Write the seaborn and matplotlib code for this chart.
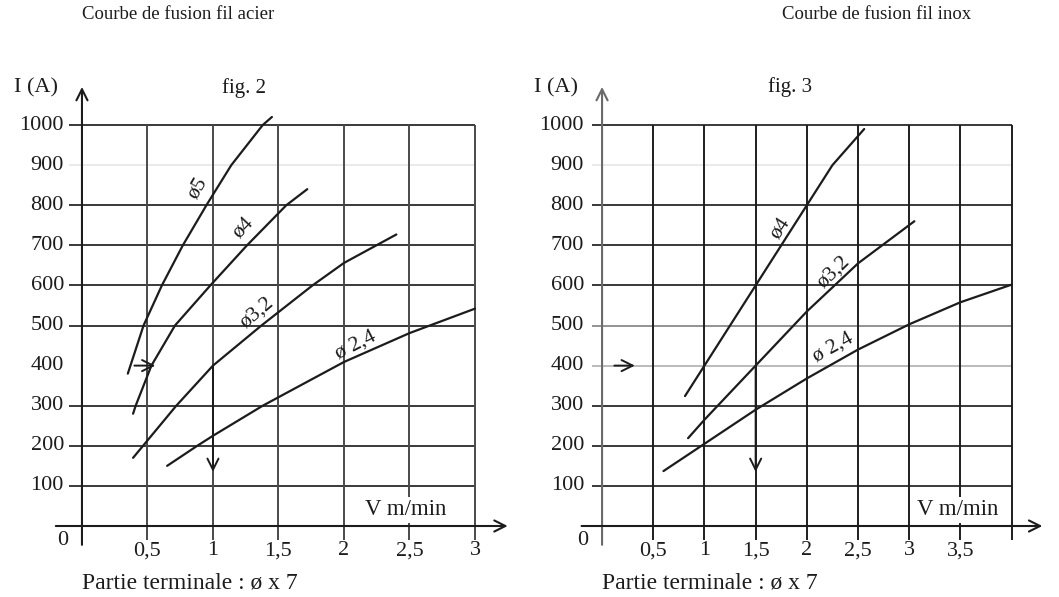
"""Courbes de fusion fil acier / fil inox (fig. 2 et fig. 3), redessinées avec seaborn."""

import matplotlib.pyplot as plt
import pandas as pd
import seaborn as sns

sns.set_theme(style="white")
plt.rcParams["font.family"] = ["Liberation Serif", "DejaVu Serif"]

I_TICKS = [100, 200, 300, 400, 500, 600, 700, 800, 900, 1000]

ACIER_V_TICKS = [0.5, 1, 1.5, 2, 2.5, 3]
ACIER_V_LABELS = ["0,5", "1", "1,5", "2", "2,5", "3"]

acier_d5_v = [0.35, 0.47, 0.61, 0.77, 0.95, 1.14, 1.38, 1.45]
acier_d5_i = [380, 500, 600, 700, 800, 900, 1000, 1020]
acier_d4_v = [0.39, 0.41, 0.53, 0.71, 0.98, 1.26, 1.56, 1.72]
acier_d4_i = [280, 300, 400, 500, 600, 700, 800, 840]
acier_d32_v = [0.39, 0.72, 1.0, 1.37, 1.76, 2.0, 2.4]
acier_d32_i = [170, 300, 400, 500, 600, 656, 727]
acier_d24_v = [0.65, 0.88, 1.0, 1.38, 2.0, 2.5, 3.0]
acier_d24_i = [150, 200, 225, 300, 409, 481, 542]

INOX_V_TICKS = [0.5, 1, 1.5, 2, 2.5, 3, 3.5, 4]
INOX_V_LABELS = ["0,5", "1", "1,5", "2", "2,5", "3", "3,5", ""]

inox_d4_v = [0.81, 1.0, 1.25, 1.5, 1.75, 2.0, 2.25, 2.56]
inox_d4_i = [324, 400, 500, 600, 700, 800, 900, 990]
inox_d32_v = [0.84, 1.0, 1.5, 2.0, 2.5, 3.05]
inox_d32_i = [219, 265, 400, 535, 655, 760]
inox_d24_v = [0.6, 1.0, 1.5, 2.0, 2.5, 3.0, 3.5, 4.0]
inox_d24_i = [137, 205, 290, 368, 440, 503, 558, 602]

INK = "#1c1c1c"


def curve_frame(curves):
    parts = [pd.DataFrame({"V": v, "I": i, "fil": name}) for name, (v, i) in curves.items()]
    return pd.concat(parts, ignore_index=True)


def draw_panel(ax, curves, labels, v_ticks, v_tick_labels, hline_colors, vline_color,
               yaxis_color, xmax_axis, fig_label, fig_label_xy, vlabel_xy, read_arrow, drop_v):
    last_v = v_ticks[-1]

    # quadrillage
    for val in I_TICKS:
        col = hline_colors.get(val, "#2a2a2a")
        if col is None:
            continue
        ax.plot([-0.1, last_v], [val, val], color=col, lw=1.3, zorder=1, solid_capstyle="butt")
    for val in v_ticks:
        ax.plot([val, val], [-35, 1000], color=vline_color, lw=1.4, zorder=1, solid_capstyle="butt")

    # axes avec flèches
    arrow = dict(arrowstyle="->", lw=1.5, color=INK, mutation_scale=20, shrinkA=0, shrinkB=0)
    ax.annotate("", xy=(0, 1095), xytext=(0, -47),
                arrowprops=dict(arrow, color=yaxis_color), zorder=2)
    ax.annotate("", xy=(xmax_axis, 0), xytext=(-0.2, 0), arrowprops=arrow, zorder=2)

    # courbes
    df = curve_frame(curves)
    sns.lineplot(data=df, x="V", y="I", units="fil", estimator=None, sort=False,
                 color=INK, lw=1.6, ax=ax, zorder=3)

    for text, x, y, rot in labels:
        ax.text(x, y, text, rotation=rot, ha="center", va="center", fontsize=15.5,
                color=INK, zorder=4)

    # flèches de lecture
    small = dict(arrowstyle="->", lw=1.4, color=INK, mutation_scale=20, shrinkA=0, shrinkB=0)
    ax.annotate("", xy=(read_arrow[1], 400), xytext=(read_arrow[0], 400), arrowprops=small, zorder=4)
    ax.annotate("", xy=(drop_v, 135), xytext=(drop_v, 400), arrowprops=small, zorder=4)

    # graduations
    for val in I_TICKS:
        ax.annotate(str(val), xy=(0, val), xytext=(-13, 0), textcoords="offset points",
                    ha="right", va="center", fontsize=16, color=INK)
    for val, lab in zip(v_ticks, v_tick_labels):
        ax.annotate(lab, xy=(val, 0), xytext=(0, -18), textcoords="offset points",
                    ha="center", va="center", fontsize=16, color=INK)
    ax.annotate("0", xy=(0, 0), xytext=(-14, -10.5), textcoords="offset points",
                ha="center", va="center", fontsize=16, color=INK)
    ax.annotate("I (A)", xy=(0, 1092), xytext=(-33, 0), textcoords="offset points",
                ha="center", va="center", fontsize=16, color=INK)
    ax.text(fig_label_xy[0], fig_label_xy[1], fig_label, ha="center", va="center",
            fontsize=15, color=INK)
    ax.text(vlabel_xy[0], vlabel_xy[1], "V m/min", ha="center", va="center", fontsize=16.5,
            color=INK, zorder=5,
            bbox=dict(boxstyle="square,pad=0.12", fc="white", ec="none"))
    ax.annotate("Partie terminale : ø x 7", xy=(0, 0), xytext=(0, -41),
                textcoords="offset points", ha="left", va="center", fontsize=17, color=INK)

    ax.set_ylim(-80, 1120)
    ax.set_xlabel("")
    ax.set_ylabel("")
    ax.axis("off")


fig = plt.figure(figsize=(10.59, 5.97), dpi=100)
ax_l = fig.add_axes([0.0403, 0.0652, 0.4453, 0.806])
ax_r = fig.add_axes([0.5395, 0.0652, 0.4593, 0.806])
ax_l.set_xlim(-0.3, 3.3)
ax_r.set_xlim(-0.3, 4.45)

draw_panel(
    ax_l,
    {"ø5": (acier_d5_v, acier_d5_i), "ø4": (acier_d4_v, acier_d4_i),
     "ø3,2": (acier_d32_v, acier_d32_i), "ø2,4": (acier_d24_v, acier_d24_i)},
    [("ø5", 0.88, 843, 60), ("ø4", 1.23, 743, 47), ("ø3,2", 1.33, 531, 40),
     ("ø 2,4", 2.09, 452, 27)],
    ACIER_V_TICKS, ACIER_V_LABELS,
    {400: None, 900: "#e8e8e8"}, "#4a4a4a", INK,
    3.25, "fig. 2", (1.24, 1092), (2.47, 40), (0.40, 0.56), 1.0,
)
draw_panel(
    ax_r,
    {"ø4": (inox_d4_v, inox_d4_i), "ø3,2": (inox_d32_v, inox_d32_i),
     "ø2,4": (inox_d24_v, inox_d24_i)},
    [("ø4", 1.74, 743, 57), ("ø3,2", 2.26, 634, 44), ("ø 2,4", 2.26, 444, 29)],
    INOX_V_TICKS, INOX_V_LABELS,
    {400: "#b5b5b5", 500: "#8a8a8a", 900: "#e8e8e8"}, "#1e1e1e", "#6a6a6a",
    4.3, "fig. 3", (1.84, 1095), (3.47, 40), (0.12, 0.32), 1.5,
)

fig.text(0.168, 0.975, "Courbe de fusion fil acier", ha="center", va="center",
         fontsize=13.5, color=INK)
fig.text(0.828, 0.975, "Courbe de fusion fil inox", ha="center", va="center",
         fontsize=13.5, color=INK)

fig.savefig("out.png", dpi=100)
plt.close(fig)
